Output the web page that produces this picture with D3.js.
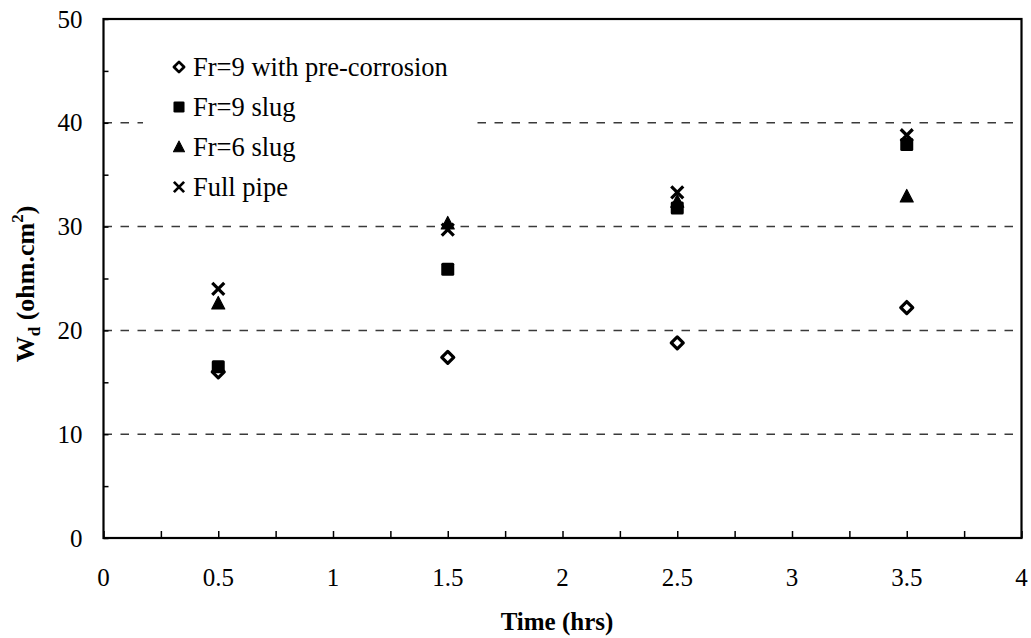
<!DOCTYPE html>
<html>
<head>
<meta charset="utf-8">
<script src="https://cdn.jsdelivr.net/npm/d3@7"></script>
<style>
  body { margin: 0; background: #fff; }
  svg text { font-family: "Liberation Serif", "Times New Roman", Times, "DejaVu Serif", serif; fill: #000; }
</style>
</head>
<body>
<svg class="chart"></svg>
<script>
// data
const times = [0.5, 1.5, 2.5, 3.5]
const preCorrosion = [16.0, 17.4, 18.8, 22.2]
const fr9Slug = [16.5, 25.9, 31.8, 37.9]
const fr6Slug = [22.6, 30.3, 32.4, 32.9]
const fullPipe = [24.0, 29.7, 33.3, 38.8]
const seriesNames = ['Fr=9 with pre-corrosion', 'Fr=9 slug', 'Fr=6 slug', 'Full pipe']
const xTicks = [0, 0.5, 1, 1.5, 2, 2.5, 3, 3.5, 4]
const yTicks = [0, 10, 20, 30, 40, 50]
const gridValues = [10, 20, 30, 40]

let svg = d3.select('.chart'),
  W = 1031, H = 638,
  margin = {top: 19, right: 9.5, bottom: 100, left: 103.5},
  width = W - margin.left - margin.right,
  height = H - margin.top - margin.bottom,
  serif = '"Liberation Serif", "Times New Roman", Times, "DejaVu Serif", serif'

svg.attr('width', W).attr('height', H)

let x = d3.scaleLinear().domain([0, 4]).range([0, width]),
  y = d3.scaleLinear().domain([0, 50]).range([height, 0])

let g = svg.append('g').attr('transform', 'translate(' + margin.left + ',' + margin.top + ')')

// dashed grid
g.selectAll('.grid')
  .data(gridValues)
  .enter().append('line')
  .attr('class', 'grid')
  .attr('x1', 0).attr('x2', width)
  .attr('y1', d => y(d)).attr('y2', d => y(d))
  .attr('stroke', '#3a3a3a')
  .attr('stroke-width', 1.5)
  .attr('stroke-dasharray', '8.5,8.5')

// inner minor ticks
let xAxis = d3.axisBottom(x).tickValues(d3.range(0, 4.01, 0.25)).tickSize(-7).tickFormat('')
let yAxis = d3.axisLeft(y).tickValues(d3.range(0, 50.1, 5)).tickSize(-5).tickFormat('')

g.append('g').attr('transform', 'translate(0,' + height + ')').call(xAxis)
  .call(a => a.select('.domain').remove())
  .selectAll('line').attr('stroke', '#000').attr('stroke-width', 1.5)
g.append('g').call(yAxis)
  .call(a => a.select('.domain').remove())
  .selectAll('line').attr('stroke', '#000').attr('stroke-width', 1.5)

// frame
g.append('rect')
  .attr('width', width).attr('height', height)
  .attr('fill', 'none').attr('stroke', '#000').attr('stroke-width', 2.2)

// tick labels
svg.append('g').selectAll('text')
  .data(xTicks)
  .enter().append('text')
  .attr('x', d => margin.left + x(d))
  .attr('y', margin.top + height + 48)
  .attr('text-anchor', 'middle')
  .attr('font-family', serif)
  .style('font-size', '25px')
  .text(d => d)
svg.append('g').selectAll('text')
  .data(yTicks)
  .enter().append('text')
  .attr('x', margin.left - 21)
  .attr('y', d => margin.top + y(d) + 8.5)
  .attr('text-anchor', 'end')
  .attr('font-family', serif)
  .style('font-size', '25px')
  .text(d => d)

// axis titles
svg.append('text')
  .attr('x', 557)
  .attr('y', 630)
  .attr('text-anchor', 'middle')
  .attr('font-family', serif)
  .style('font-size', '25px').style('font-weight', 'bold')
  .text('Time (hrs)')

let yt = svg.append('text')
  .attr('transform', 'translate(34,284) rotate(-90)')
  .attr('text-anchor', 'middle')
  .attr('font-family', serif)
  .style('font-size', '26px').style('font-weight', 'bold')
yt.append('tspan').text('W')
yt.append('tspan').attr('dy', 6).style('font-size', '17px').text('d')
yt.append('tspan').attr('dy', -6).text(' (ohm.cm')
yt.append('tspan').attr('dy', -11).style('font-size', '17px').text('2')
yt.append('tspan').attr('dy', 11).text(')')

// markers
const symbols = {
  diamond: (sel) => sel.append('path')
    .attr('d', 'M0,-6 L6,0 L0,6 L-6,0 Z')
    .attr('fill', '#fff').attr('stroke', '#000').attr('stroke-width', 3.2).attr('stroke-linejoin', 'round'),
  square: (sel) => sel.append('rect')
    .attr('x', -6.5).attr('y', -6.5).attr('width', 13).attr('height', 13).attr('rx', 1.5)
    .attr('fill', '#000'),
  triangle: (sel) => sel.append('path')
    .attr('d', 'M0,-7 L6.5,5.5 L-6.5,5.5 Z')
    .attr('fill', '#000').attr('stroke', '#000').attr('stroke-width', 1.2).attr('stroke-linejoin', 'round'),
  cross: (sel) => sel.append('path')
    .attr('d', 'M-6,-6 L6,6 M6,-6 L-6,6')
    .attr('fill', 'none').attr('stroke', '#000').attr('stroke-width', 3.2)
}
const seriesData = [preCorrosion, fr9Slug, fr6Slug, fullPipe]
const seriesSym = ['diamond', 'square', 'triangle', 'cross']

seriesData.forEach((vals, i) => {
  g.append('g').selectAll('g')
    .data(vals)
    .enter().append('g')
    .attr('transform', (d, j) => 'translate(' + x(times[j]) + ',' + y(d) + ')')
    .each(function() { symbols[seriesSym[i]](d3.select(this)) })
})

// legend
let legend = svg.append('g')
legend.append('rect')
  .attr('x', 143).attr('y', 42).attr('width', 334).attr('height', 165)
  .attr('fill', '#fff')
seriesNames.forEach((name, i) => {
  let row = legend.append('g').attr('transform', 'translate(179,' + (67 + i * 40) + ')')
  let m = row.append('g').attr('transform', 'scale(0.85)')
  symbols[seriesSym[i]](m)
  row.append('text')
    .attr('x', 14).attr('y', 8.5)
    .attr('font-family', serif)
    .style('font-size', '26.5px')
    .text(name)
})
</script>
</body>
</html>
